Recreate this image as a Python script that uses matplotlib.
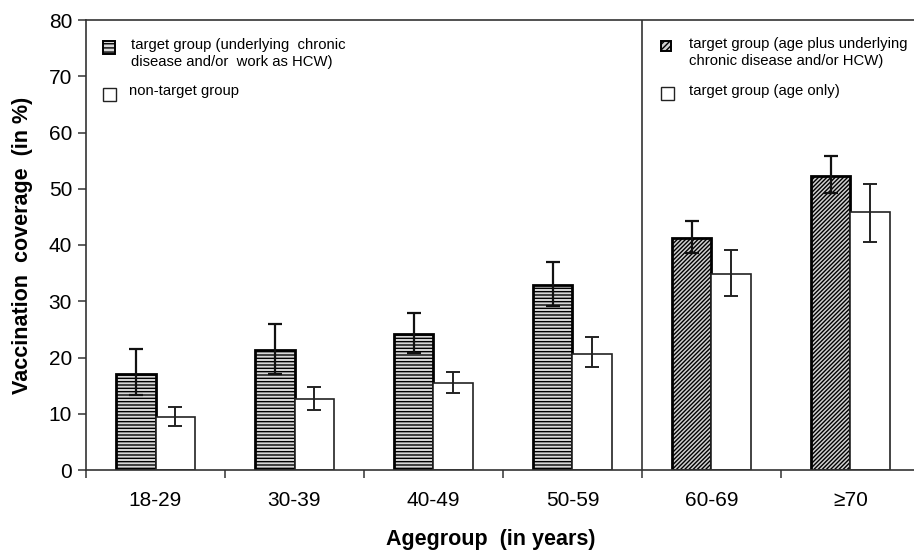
import numpy as np
import matplotlib
matplotlib.use('Agg')
import matplotlib.pyplot as plt
from matplotlib.patches import Rectangle

plt.rcParams['font.family'] = ['Liberation Sans', 'DejaVu Sans']
plt.rcParams['hatch.linewidth'] = 1.0

# data (vaccination coverage in %)
agegroups = ['18-29', '30-39', '40-49', '50-59', '60-69', '\u226570']
target = [17.0, 21.3, 24.1, 32.9, 41.2, 52.3]
target_lo = [13.3, 17.1, 20.8, 29.2, 38.5, 49.2]
target_hi = [21.6, 26.0, 28.0, 37.0, 44.2, 55.9]
other = [9.5, 12.6, 15.5, 20.7, 34.8, 45.8]
other_lo = [7.8, 10.6, 13.7, 18.3, 31.0, 40.5]
other_hi = [11.2, 14.8, 17.4, 23.6, 39.1, 50.9]
legend_left = ['target group (underlying  chronic\ndisease and/or  work as HCW)', 'non-target group']
legend_right = ['target group (age plus underlying\nchronic disease and/or HCW)', 'target group (age only)']

W, H = 914, 553
fig = plt.figure(figsize=(W / 100, H / 100), dpi=100)
ax = fig.add_axes([86 / W, (H - 470) / H, (920 - 86) / W, 450 / H])

x = np.arange(len(agegroups))
bw = 0.285
young = x < 4
old = x >= 4

t = np.array(target)
o = np.array(other)
t_err = np.array([t - np.array(target_lo), np.array(target_hi) - t])
o_err = np.array([o - np.array(other_lo), np.array(other_hi) - o])

# young target groups: horizontal hatch, old: diagonal hatch
ax.bar(x[young] - bw / 2, t[young], bw, color='#d8d8d8', edgecolor='black',
       linewidth=2.0, hatch='-----', zorder=2)
ax.bar(x[old] - bw / 2, t[old], bw, color='#d0d0d0', edgecolor='black',
       linewidth=2.0, hatch='////////', zorder=2)
ax.bar(x + bw / 2, o, bw, color='white', edgecolor='#222222', linewidth=1.2, zorder=2)

ax.errorbar(x - bw / 2, t, yerr=t_err, fmt='none', ecolor='#111111',
            elinewidth=1.6, capsize=5, capthick=1.6, zorder=3)
ax.errorbar(x + bw / 2, o, yerr=o_err, fmt='none', ecolor='#222222',
            elinewidth=1.4, capsize=5, capthick=1.4, zorder=3)

ax.axvline(3.5, color='#222222', lw=1.1, zorder=1)

ax.set_xlim(-0.5, 5.5)
ax.set_ylim(0, 80)
ax.set_yticks(np.arange(0, 81, 10))
ax.set_xticks(x)
ax.set_xticklabels(agegroups)
ax.set_xticks(np.arange(-0.5, 5.6, 1), minor=True)
ax.tick_params(axis='x', which='major', length=0, pad=15, labelsize=15)
ax.tick_params(axis='x', which='minor', length=6, width=1.1, color='#333333')
ax.tick_params(axis='y', length=6, width=1.1, color='#333333', labelsize=15, pad=4)
for s in ['left', 'bottom', 'top', 'right']:
    ax.spines[s].set_linewidth(1.2)
    ax.spines[s].set_color('#333333')

ax.set_ylabel('Vaccination  coverage  (in %)', fontsize=15.5, fontweight='bold')
ax.yaxis.label.set_va('center')
ax.yaxis.set_label_coords(-(86 - 22) / (920 - 86), (470 - 245) / 450)
ax.set_xlabel('Agegroup  (in years)', fontsize=15.5, fontweight='bold')
ax.xaxis.label.set_va('center')
ax.xaxis.set_label_coords((491 - 86) / (920 - 86), -(540 - 470) / 450)

# legends drawn by hand so the boxes sit next to the first text line
def px(xp, yp):
    return fig.transFigure.inverted().transform(fig.dpi_scale_trans.transform((xp / 100, (H - yp) / 100)))

def legend_box(x0, y0, w, h, **kw):
    p = Rectangle(px(x0, y0 + h), w / W, h / H, transform=fig.transFigure, **kw)
    fig.patches.append(p)

legend_box(103, 41, 12, 13, facecolor='#d8d8d8', edgecolor='black', lw=1.4, hatch='----')
legend_box(103, 88, 13, 13, facecolor='white', edgecolor='#222222', lw=1.0)
legend_box(661, 41, 10, 10, facecolor='#d0d0d0', edgecolor='black', lw=1.4, hatch='//////')
legend_box(661, 87, 13, 13, facecolor='white', edgecolor='#222222', lw=1.0)

fs = 10.7
fig.text(*px(131, 38), legend_left[0], fontsize=fs, va='top', linespacing=1.3)
fig.text(*px(129, 84), legend_left[1], fontsize=fs, va='top')
fig.text(*px(689, 37), legend_right[0], fontsize=fs, va='top', linespacing=1.3)
fig.text(*px(689, 84), legend_right[1], fontsize=fs, va='top')

fig.savefig('out.png', dpi=100)
